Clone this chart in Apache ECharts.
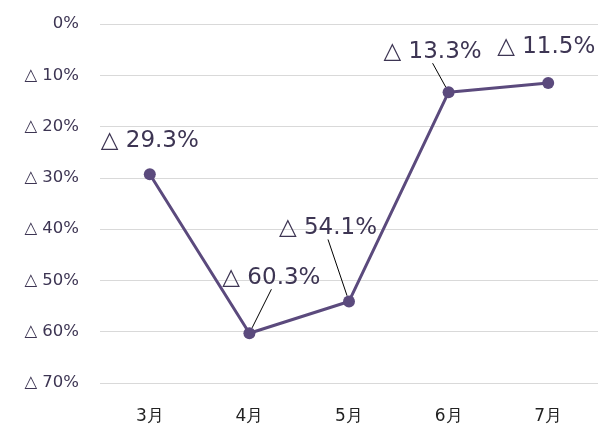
<!DOCTYPE html>
<html>
<head>
<meta charset="utf-8">
<script src="https://cdn.jsdelivr.net/npm/echarts@6/dist/echarts.min.js"></script>
<style>
  html, body { margin: 0; padding: 0; background: #fff; }
  #main { width: 599px; height: 429px; }
</style>
</head>
<body>
<div id="main"></div>
<script>
// 月份
const months = ['3月', '4月', '5月', '6月', '7月'];
// 前年比（マイナス＝△）
const changes = [-29.3, -60.3, -54.1, -13.3, -11.5];
// 引き出し線を出すかどうか
const showLeader = [false, true, true, true, false];
// y軸目盛
const yTicks = [0, -10, -20, -30, -40, -50, -60, -70];

const labelShift = [[0, 0], [22, -22], [-21, -40], [-16, -7], [-2, -2]]; // ラベル位置調整

function fmt(v) {
    return v === 0 ? '0%' : '△ ' + Math.abs(v) + '%';
}

const chart = echarts.init(document.getElementById('main'));
const option = {
    animation: false,
    grid: { left: 100, right: 1, top: 24, bottom: 46 },
    xAxis: {
        type: 'category',
        data: months,
        axisLine: { show: false },
        axisTick: { show: false },
        axisLabel: { color: '#222', fontSize: 17, margin: 25, fontFamily: 'DejaVu Sans' }
    },
    yAxis: {
        type: 'value',
        min: yTicks[yTicks.length - 1],
        max: yTicks[0],
        interval: 10,
        axisLine: { show: false },
        axisTick: { show: false },
        splitLine: { lineStyle: { color: '#d9d9d9', width: 1 } },
        axisLabel: { color: '#3d3553', fontSize: 16.5, margin: 21, fontFamily: 'DejaVu Sans', formatter: fmt }
    },
    series: [{
        type: 'line',
        data: changes.map((v, i) => ({
            value: v,
            labelLine: { show: showLeader[i] }
        })),
        symbol: 'circle',
        symbolSize: 12,
        lineStyle: { color: '#5b4a7d', width: 3 },
        itemStyle: { color: '#5b4a7d' },
        label: {
            show: true,
            position: 'top',
            distance: 16,
            fontSize: 23,
            color: '#3d3553',
            fontFamily: 'DejaVu Sans',
            formatter: p => fmt(p.value)
        },
        labelLine: { lineStyle: { color: '#000', width: 1 } },
        labelLayout: p => ({ dx: labelShift[p.dataIndex][0], dy: labelShift[p.dataIndex][1] })
    }]
};
chart.setOption(option);
</script>
</body>
</html>
